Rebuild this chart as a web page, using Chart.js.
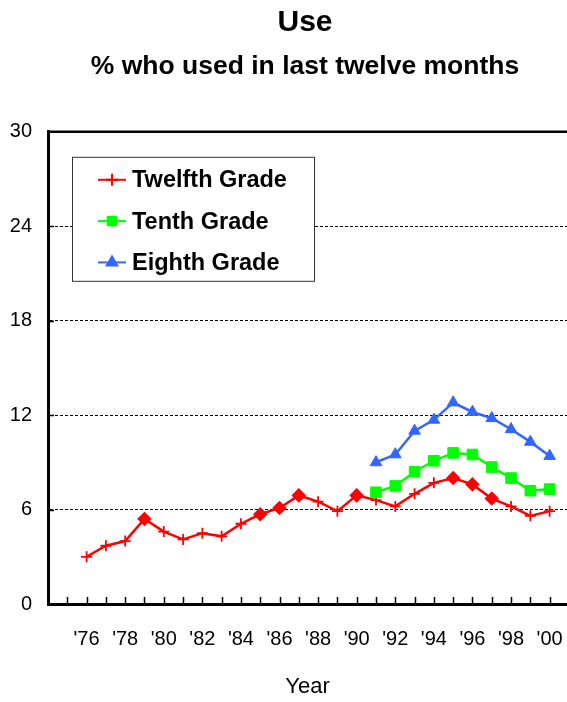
<!DOCTYPE html>
<html>
<head>
<meta charset="utf-8">
<title>Use</title>
<script src="https://cdn.jsdelivr.net/npm/chart.js@4.4.1/dist/chart.umd.min.js"></script>
<style>
  html, body { margin: 0; padding: 0; background: #fff; overflow: hidden; }
  #wrap { width: 567px; height: 702px; overflow: hidden; }
</style>
</head>
<body>
<div id="wrap"><canvas id="chart" width="610" height="702"></canvas></div>
<script>
// Survey years
const years12 = [1976, 1977, 1978, 1979, 1980, 1981, 1982, 1983, 1984, 1985, 1986, 1987, 1988,
                 1989, 1990, 1991, 1992, 1993, 1994, 1995, 1996, 1997, 1998, 1999, 2000];
const yearsLower = [1991, 1992, 1993, 1994, 1995, 1996, 1997, 1998, 1999, 2000];

// % who used in last twelve months
const twelfth = [3.0, 3.7, 4.0, 5.4, 4.6, 4.1, 4.5, 4.3, 5.1, 5.7, 6.1, 6.9, 6.5,
                 5.9, 6.9, 6.6, 6.2, 7.0, 7.7, 8.0, 7.6, 6.7, 6.2, 5.6, 5.9];
const tenth = [7.1, 7.5, 8.4, 9.1, 9.6, 9.5, 8.7, 8.0, 7.2, 7.3];
const eighth = [9.0, 9.5, 11.0, 11.7, 12.8, 12.2, 11.8, 11.1, 10.3, 9.4];

// twelfth grade years drawn with a diamond instead of a cross
const markedYears = [1979, 1985, 1986, 1987, 1990, 1995, 1996, 1997];

// axis ticks
const xTickYears = [1976, 1978, 1980, 1982, 1984, 1986, 1988, 1990, 1992, 1994, 1996, 1998, 2000];
const xTickLabels = ["'76", "'78", "'80", "'82", "'84", "'86", "'88", "'90", "'92", "'94", "'96", "'98", "'00"];
const yTicks = [0, 6, 12, 18, 24, 30];

const FONT = "'Liberation Sans', Arial, sans-serif";
Chart.defaults.font.family = FONT;
Chart.defaults.color = '#000';

function toPoints(xs, ys) {
    return xs.map((x, i) => ({ x: x, y: ys[i] }));
}

// Frame, inner tick marks and the boxed legend inside the plot
const framePlugin = {
    id: 'framePlugin',
    afterDraw(chart) {
        const ctx = chart.ctx;
        const ca = chart.chartArea;
        const xs = chart.scales.x;
        const ys = chart.scales.y;
        ctx.save();
        ctx.strokeStyle = '#000';

        // top border
        ctx.lineWidth = 2.5;
        ctx.beginPath();
        ctx.moveTo(ca.left, ca.top);
        ctx.lineTo(ca.right + 4, ca.top);
        ctx.stroke();

        // small year ticks pointing into the plot
        ctx.lineWidth = 1.5;
        for (let yr = Math.ceil(xs.min) + 1; yr <= Math.floor(xs.max); yr++) {
            const px = Math.round(xs.getPixelForValue(yr)) + 0.5;
            ctx.beginPath();
            ctx.moveTo(px, ca.bottom);
            ctx.lineTo(px, ca.bottom - 7);
            ctx.stroke();
        }
        yTicks.slice(1, -1).forEach(v => {
            const py = Math.round(ys.getPixelForValue(v)) + 0.5;
            ctx.beginPath();
            ctx.moveTo(ca.left, py);
            ctx.lineTo(ca.left + 6, py);
            ctx.stroke();
        });

        // legend box
        const bx = ca.left + 24, by = ca.top + 25, bw = 242, bh = 124;
        ctx.fillStyle = '#fff';
        ctx.fillRect(bx, by, bw, bh);
        ctx.strokeStyle = '#333';
        ctx.lineWidth = 1;
        ctx.strokeRect(bx + 0.5, by + 0.5, bw, bh);

        chart.data.datasets.forEach((ds, i) => {
            const cy = by + 23 + i * 41.3;
            ctx.strokeStyle = ds.borderColor;
            ctx.lineWidth = 2;
            ctx.beginPath();
            ctx.moveTo(bx + 26, cy);
            ctx.lineTo(bx + 54, cy);
            ctx.stroke();
            ctx.fillStyle = ds.backgroundColor;
            Chart.helpers.drawPoint(ctx, {
                pointStyle: ds.legendStyle,
                radius: ds.legendRadius,
                borderWidth: 1.5,
                rotation: 0
            }, bx + 40, cy);
            ctx.fillStyle = '#000';
            ctx.font = 'bold 23.5px ' + FONT;
            ctx.textBaseline = 'middle';
            ctx.textAlign = 'left';
            ctx.fillText(ds.label, bx + 60, cy + 1);
        });
        ctx.restore();
    }
};

new Chart(document.getElementById('chart'), {
    type: 'line',
    plugins: [framePlugin],
    data: {
        datasets: [
            {
                label: 'Twelfth Grade',
                data: toPoints(years12, twelfth),
                borderColor: '#FF0000',
                backgroundColor: '#FF0000',
                borderWidth: 2.5,
                pointStyle: years12.map(y => markedYears.includes(y) ? 'rectRot' : 'cross'),
                pointRadius: years12.map(y => markedYears.includes(y) ? 6 : 5.5),
                pointBorderWidth: 1.8,
                legendStyle: 'cross',
                legendRadius: 6,
                order: 3
            },
            {
                label: 'Tenth Grade',
                data: toPoints(yearsLower, tenth),
                borderColor: '#00FF00',
                backgroundColor: '#00FF00',
                borderWidth: 2.5,
                pointStyle: 'rect',
                pointRadius: 7.5,
                pointBorderWidth: 1,
                legendStyle: 'rect',
                legendRadius: 6,
                order: 2
            },
            {
                label: 'Eighth Grade',
                data: toPoints(yearsLower, eighth),
                borderColor: '#3366FF',
                backgroundColor: '#3366FF',
                borderWidth: 2.5,
                pointStyle: 'triangle',
                pointRadius: 6.7,
                pointBorderWidth: 1,
                legendStyle: 'triangle',
                legendRadius: 6,
                order: 1
            }
        ]
    },
    options: {
        responsive: false,
        animation: false,
        layout: { padding: 0 },
        plugins: {
            legend: { display: false },
            tooltip: { enabled: false },
            title: {
                display: true,
                text: 'Use',
                font: { size: 30, weight: 'bold' },
                padding: { top: 5, bottom: 3 }
            },
            subtitle: {
                display: true,
                text: '% who used in last twelve months',
                color: '#000',
                font: { size: 26.5, weight: 'bold' },
                padding: { top: 7, bottom: 49 }
            }
        },
        scales: {
            x: {
                type: 'linear',
                min: 1974,
                max: 2000.9,
                grid: { display: false },
                border: { color: '#000', width: 3 },
                afterBuildTicks: s => { s.ticks = xTickYears.map(v => ({ value: v })); },
                ticks: {
                    autoSkip: false,
                    maxRotation: 0,
                    padding: 15,
                    font: { size: 20 },
                    callback: (v, i) => xTickLabels[i]
                },
                title: {
                    display: true,
                    text: 'Year',
                    font: { size: 22 },
                    padding: { top: 0, bottom: 2 }
                },
                afterFit: s => { s.height = 98; }
            },
            y: {
                min: 0,
                max: 30,
                afterBuildTicks: s => { s.ticks = yTicks.map(v => ({ value: v })); },
                grid: {
                    color: c => (c.tick.value === 0 || c.tick.value === 30) ? 'rgba(0,0,0,0)' : '#000',
                    lineWidth: 1,
                    drawTicks: false
                },
                border: { color: '#000', width: 3, dash: [3, 2] },
                ticks: { font: { size: 20 }, padding: 16 },
                afterFit: s => { s.width = 48; }
            },
            y2: {
                position: 'right',
                min: 0,
                max: 30,
                grid: { display: false },
                border: { display: false },
                ticks: { display: false },
                afterFit: s => { s.width = 43; }
            }
        }
    }
});
</script>
</body>
</html>
